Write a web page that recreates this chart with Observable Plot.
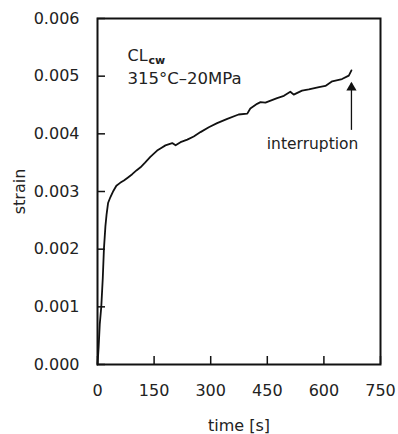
<!DOCTYPE html>
<html>
<head>
<meta charset="utf-8">
<script src="https://cdn.jsdelivr.net/npm/d3@7"></script>
<script src="https://cdn.jsdelivr.net/npm/@observablehq/plot@0.6"></script>
<style>
  html, body { margin: 0; padding: 0; background: #fff; }
</style>
</head>
<body>
<div id="chart"></div>
<script>
const time = [0, 3, 6, 10, 14, 17, 21, 24, 28, 34, 42, 50, 60, 70, 80, 92, 104, 114, 126, 140, 158, 170, 180, 198, 207, 220, 238, 255, 273, 295, 317, 344, 374, 397, 405, 423, 432, 445, 476, 494, 511, 520, 542, 560, 587, 604, 622, 648, 666, 673];
const strain = [0, 0.0003, 0.0007, 0.001, 0.0015, 0.002, 0.0024, 0.0026, 0.0028, 0.0029, 0.00301, 0.0031, 0.00315, 0.00319, 0.00324, 0.0033, 0.00337, 0.00342, 0.0035, 0.0036, 0.00371, 0.00376, 0.0038, 0.00384, 0.0038, 0.003855, 0.0039, 0.003954, 0.00403, 0.004115, 0.004185, 0.00426, 0.004335, 0.00435, 0.00444, 0.00452, 0.00455, 0.00454, 0.00462, 0.00466, 0.00473, 0.00468, 0.00475, 0.00477, 0.00481, 0.00483, 0.00491, 0.00495, 0.00501, 0.0051];
const xTicks = [0, 150, 300, 450, 600, 750];
const yTicks = [0, 0.001, 0.002, 0.003, 0.004, 0.005, 0.006];

// annotation values
const arrowX = [673];
const arrowTip = [0.00487];
const arrowTail = [0.00406];
const noteText = ["interruption"];
const noteX = [570];
const noteY = [0.00383];
const specimen = ["CL"];
const specimenSub = ["cw"];
const condition = ["315°C–20MPa"];
const labelX = [79.5];
const labelY1 = [0.00536];
const labelY2 = [0.00496];

const data = time.map((t, i) => ({t, s: strain[i]}));

const W = 398, H = 434, mT = 18, mR = 18, mB = 70, mL = 97;
const plotW = W - mL - mR, plotH = H - mT - mB;

const chart = Plot.plot({
  width: W, height: H,
  marginTop: mT, marginRight: mR, marginBottom: mB, marginLeft: mL,
  style: {fontFamily: "DejaVu Sans", fontSize: "16px", color: "#222", background: "#fff"},
  x: {domain: [0, 750]},
  y: {domain: [0, 0.006]},
  marks: [
    Plot.axisX(xTicks, {tickSize: 0, tickPadding: 20, tickFormat: d => String(d), label: "time [s]", labelAnchor: "center", labelOffset: 66, labelArrow: "none", fontSize: 16}),
    Plot.axisY(yTicks, {tickSize: 0, tickPadding: 18, tickFormat: d3.format(".3f"), label: "strain", labelAnchor: "center", labelOffset: 84, labelArrow: "none", fontSize: 16}),
    Plot.tickX(xTicks, {x: d => d, insetTop: plotH - 8, stroke: "#111", strokeWidth: 1.5}),
    Plot.tickY(yTicks, {y: d => d, insetRight: plotW - 8, stroke: "#111", strokeWidth: 1.5}),
    Plot.frame({stroke: "#111", strokeWidth: 2}),
    Plot.line(data, {x: "t", y: "s", stroke: "#111", strokeWidth: 1.8}),
    Plot.ruleX(arrowX, {x: d => d, y1: arrowTail, y2: arrowTip, stroke: "#111", strokeWidth: 1.3}),
    Plot.dot(arrowX, {x: d => d, y: () => arrowTip[0], symbol: "triangle", r: 3.8, fill: "#111", stroke: "none", dy: 4}),
    Plot.text(noteText, {x: () => noteX[0], y: () => noteY[0], text: d => d, fontSize: 15.5, fill: "#222"}),
    Plot.text(specimen, {x: () => labelX[0], y: () => labelY1[0], text: d => d, textAnchor: "start", fontSize: 16, fill: "#222"}),
    Plot.text(specimenSub, {x: () => labelX[0], y: () => labelY1[0], text: d => d, textAnchor: "start", fontSize: 11, fontWeight: "bold", dx: 21, dy: 5, fill: "#222"}),
    Plot.text(condition, {x: () => labelX[0], y: () => labelY2[0], text: d => d, textAnchor: "start", fontSize: 16.5, fill: "#222"})
  ]
});
document.getElementById("chart").appendChild(chart);
</script>
</body>
</html>
